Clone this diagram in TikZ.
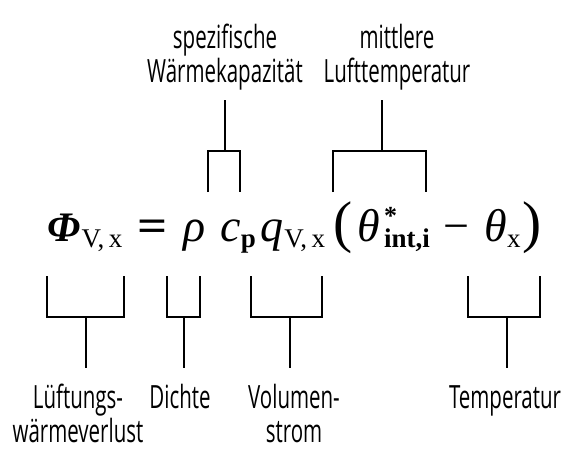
\documentclass[tikz,border=0pt]{standalone}
\usepackage{amsmath,amssymb}
\usepackage{graphicx}
\usepackage{fontspec}
\newfontfamily\beschrfont[FakeStretch=0.64]{Open Sans}
\newfontfamily\formelfont{Liberation Serif}
\newcommand{\tiefst}[1]{\raisebox{-3pt}{\fontsize{13.5}{14}\selectfont #1}}
\newcommand{\hochst}[1]{\raisebox{8.5pt}{\fontsize{13}{14}\selectfont #1}}
\newcommand{\grossklammer}[1]{{\fontsize{28.7}{30}\selectfont #1}}
\tikzset{
  beschriftung/.style={font=\beschrfont\fontsize{16}{17}\selectfont,align=center,anchor=base,inner sep=0pt},
  formel/.style={font=\formelfont\fontsize{23}{26}\selectfont,anchor=base west,inner sep=0pt},
  klammer/.style={line width=1.2pt,line join=miter}
}

\begin{document}
\begin{tikzpicture}[x=0.5pt,y=-0.5pt]
    \path[use as bounding box] (0,0) rectangle (576,471);
    % Formel, Grundlinie bei 241
    \node[formel] (fphi) at (47,241) {{\fontsize{21}{24}\selectfont\bfseries\itshape Φ}\kern0.5pt\tiefst{V,\,x}};
    \node[formel] (fgleich) at (137,241) {\scalebox{1.15}[1]{\bfseries =}};
    \node[formel] (frho) at (183,241) {{\itshape ρ}};
    \node[formel] (fcp) at (220,241) {{\itshape c}\tiefst{\bfseries p}};
    \node[formel] (fq) at (260,241) {{\itshape q}\kern0.5pt\tiefst{V,\,x}};
    \node[formel] (fauf) at (333,241) {\grossklammer{(}};
    \node[formel] (fthetai) at (357,241) {{\itshape θ}\kern2pt\rlap{\hochst{\bfseries *}}\tiefst{\bfseries int,i}};
    \node[formel] (fminus) at (443,241) {−};
    \node[formel] (fthetax) at (484,241) {{\itshape θ}\tiefst{x}};
    \node[formel] (fzu) at (522,241) {\grossklammer{)}};
    % obere Klammern
    \draw[klammer] (208,192) |- (240,151) -- (240,192);
    \draw[klammer] (225,151) -- (225,100);
    \draw[klammer] (333,192) |- (426,151) -- (426,192);
    \draw[klammer] (382,151) -- (382,100);
    \node[beschriftung] (lcp) at (225,82) {spezifische\\Wärmekapazität};
    \node[beschriftung] (ltheta) at (397,82) {mittlere\\Lufttemperatur};
    % untere Klammern
    \draw[klammer] (47,276) |- (124,317) -- (124,276);
    \draw[klammer] (86,317) -- (86,368);
    \draw[klammer] (167,276) |- (200,317) -- (200,276);
    \draw[klammer] (184,317) -- (184,368);
    \draw[klammer] (251,276) |- (322,317) -- (322,276);
    \draw[klammer] (290,317) -- (290,368);
    \draw[klammer] (468,276) |- (540,317) -- (540,276);
    \draw[klammer] (507,317) -- (507,368);
    \node[beschriftung] (lphi) at (78,442) {Lüftungs-\\wärmeverlust};
    \node[beschriftung] (lrho) at (180,408) {Dichte};
    \node[beschriftung] (lq) at (294,442) {Volumen-\\strom};
    \node[beschriftung] (lthetax) at (505,408) {Temperatur};
\end{tikzpicture}
\end{document}
